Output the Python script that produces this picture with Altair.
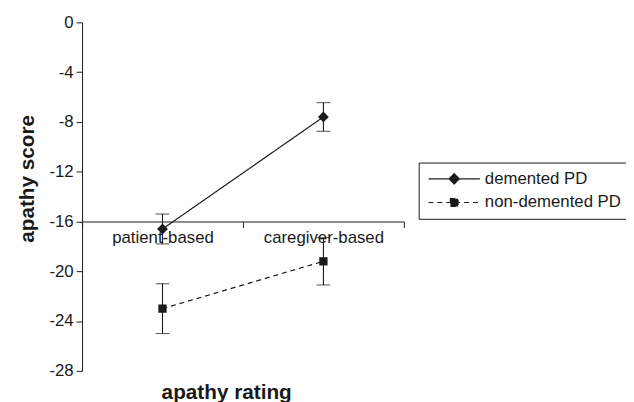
import altair as alt
import pandas as pd

categories = ["patient-based", "caregiver-based"]
groups = ["demented PD", "non-demented PD"]
demented_mean = [-16.6, -7.6]
demented_err = [1.2, 1.15]
nondemented_mean = [-23.0, -19.2]
nondemented_err = [2.0, 1.9]
y_ticks = [-28, -24, -20, -16, -12, -8, -4, 0]
y_domain = [-28, 0]
axis_cross = -16

W, H = 326, 353
FONT = "Liberation Sans"
INK = "#1a1a1a"

rows = []
for g, means, errs in [(groups[0], demented_mean, demented_err),
                       (groups[1], nondemented_mean, nondemented_err)]:
    for i, (c, m, e) in enumerate(zip(categories, means, errs)):
        rows.append(dict(group=g, category=c, pos=i + 0.5, mean=m, lo=m - e, hi=m + e))
df = pd.DataFrame(rows)

x_offset = -(axis_cross - y_domain[0]) / (y_domain[1] - y_domain[0]) * H

label_expr = ""
for i, c in enumerate(categories):
    label_expr += f"datum.value == {i + 0.5} ? '{c}' : "
label_expr += "''"

x_vals = [i * 0.5 for i in range(2 * len(categories) + 1)]

x_enc = alt.X(
    "pos:Q",
    scale=alt.Scale(domain=[0, len(categories)], nice=False, zero=False),
    axis=alt.Axis(
        values=x_vals,
        labelExpr=label_expr,
        offset=x_offset,
        grid=False,
        domainColor=INK,
        tickColor=INK,
        tickSize=6,
        tickOpacity={"condition": {"test": "datum.value % 1 == 0", "value": 1}, "value": 0},
        labelFont=FONT,
        labelFontSize=17,
        labelColor=INK,
        labelPadding=2,
        labelBaseline="top",
        title="apathy rating",
        titleFont=FONT,
        titleFontSize=21,
        titleFontWeight="bold",
        titleColor=INK,
        titleX=146,
        titleY=179,
        titleAlign="center",
        titleBaseline="alphabetic",
    ),
)

y_axis = alt.Axis(
    values=y_ticks,
    labelExpr="datum.value + ''",
    grid=False,
    domainColor=INK,
    tickColor=INK,
    tickSize=6,
    labelFont=FONT,
    labelFontSize=17,
    labelColor=INK,
    labelPadding=3,
    title="apathy score",
    titleFont=FONT,
    titleFontSize=21,
    titleFontWeight="bold",
    titleColor=INK,
    titleX=-55,
    titleY=158,
    titleAngle=270,
    titleAlign="center",
    titleBaseline="middle",
)
y_scale = alt.Scale(domain=y_domain, nice=False, zero=False)

# legend symbol: path units of 6.5 px (symbolSize 169); line spans 52 px, marker in the middle
legend_spec = alt.Legend(
    title=None,
    orient="none",
    legendX=341,
    legendY=142,
    strokeColor=INK,
    padding=8,
    labelFont=FONT,
    labelFontSize=17,
    labelColor=INK,
    labelOffset=42,
    symbolSize=169,
    symbolStrokeWidth=1.2,
    symbolFillColor=INK,
    symbolOpacity=1,
    rowPadding=6,
)

dash_scale = alt.Scale(domain=groups, range=[[1, 0], [5, 4]])
stroke_scale = alt.Scale(domain=groups, range=[INK, INK])
legend_paths = [
    "M-1,0L7,0M3,-0.8L3.8,0L3,0.8L2.2,0Z",
    "M-1,0L7,0M2.4,-0.6L3.6,-0.6L3.6,0.6L2.4,0.6Z",
]

base = alt.Chart(df)

lines = base.mark_line(strokeWidth=1.2).encode(
    x=x_enc,
    y=alt.Y("mean:Q", scale=y_scale, axis=y_axis),
    strokeDash=alt.StrokeDash("group:N", scale=dash_scale, legend=legend_spec),
    stroke=alt.Stroke("group:N", scale=stroke_scale, legend=legend_spec),
    detail="group:N",
)

err_rule = base.mark_rule(color=INK, strokeWidth=1.1).encode(
    x="pos:Q", y="lo:Q", y2="hi:Q"
)
cap_lo = base.mark_tick(orient="horizontal", color=INK, size=14, thickness=1.1).encode(
    x="pos:Q", y="lo:Q"
)
cap_hi = base.mark_tick(orient="horizontal", color=INK, size=14, thickness=1.1).encode(
    x="pos:Q", y="hi:Q"
)

pts_d = base.transform_filter(alt.datum.group == groups[0]).mark_point(
    shape="diamond", filled=True, color=INK, size=120, opacity=1
).encode(x="pos:Q", y="mean:Q")
pts_n = base.transform_filter(alt.datum.group == groups[1]).mark_point(
    shape="square", filled=True, color=INK, size=70, opacity=1
).encode(x="pos:Q", y="mean:Q")

legend_layer = base.mark_point(filled=False, fill=INK, strokeWidth=1.2, opacity=0).encode(
    x="pos:Q",
    y="mean:Q",
    shape=alt.Shape("group:N", scale=alt.Scale(domain=groups, range=legend_paths), legend=legend_spec),
    strokeDash=alt.StrokeDash("group:N", scale=dash_scale, legend=legend_spec),
    stroke=alt.Stroke("group:N", scale=stroke_scale, legend=legend_spec),
)

chart = alt.layer(lines, err_rule, cap_lo, cap_hi, pts_d, pts_n, legend_layer).properties(
    width=W,
    height=H,
    padding={"left": 75, "top": 12, "right": 225, "bottom": 29},
    autosize=alt.AutoSizeParams(type="none"),
    background="white",
).configure_view(stroke=None)

chart.save("out.html", embed_options={"renderer": "svg", "actions": False})
